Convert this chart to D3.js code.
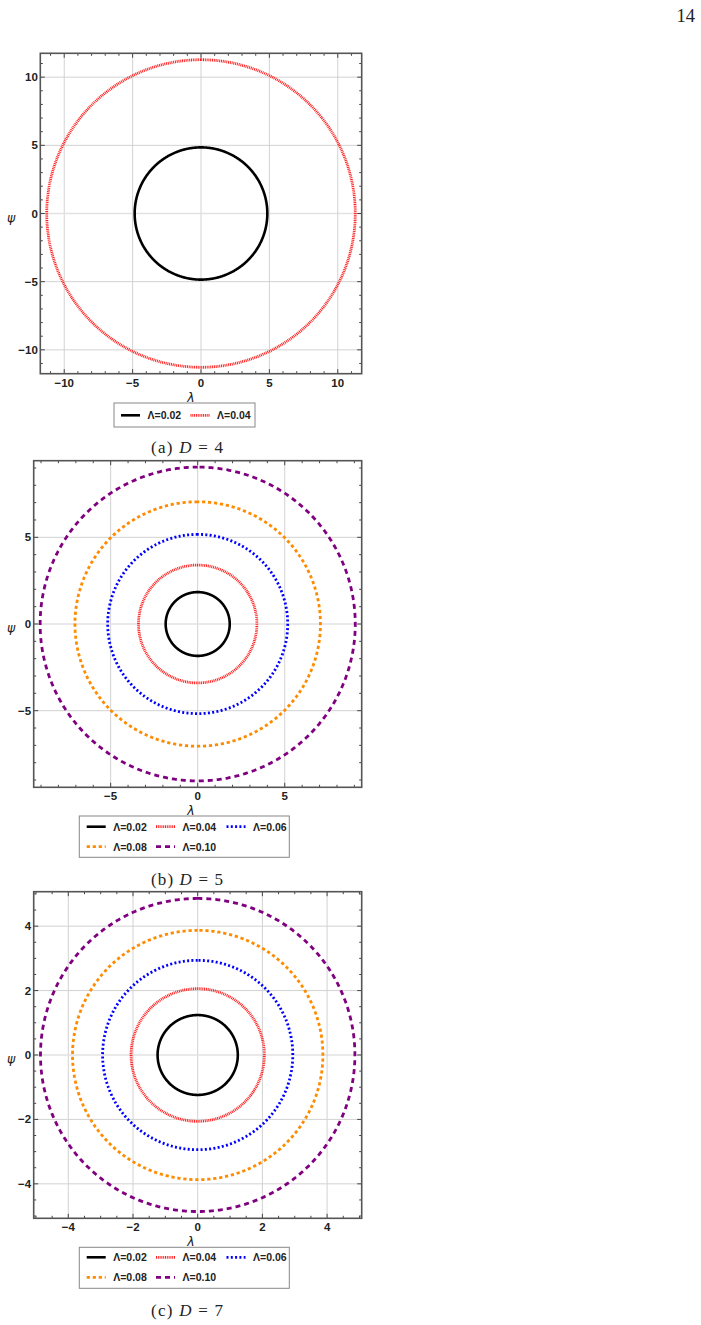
<!DOCTYPE html>
<html><head><meta charset="utf-8">
<script src="https://cdn.jsdelivr.net/npm/d3@7"></script>
<style>body{margin:0;background:#fff}svg{display:block}</style>
</head><body>
<svg id="c" width="701" height="1325"></svg>
<script>
// ---- data ----
const lambdaLabelsA = ["0.02", "0.04"];
const radiiA = [4.85, 11.28];
const ticksA = [-10, -5, 0, 5, 10];
const extentA = 11.75;

const lambdaLabelsB = ["0.02", "0.04", "0.06", "0.08", "0.10"];
const radiiB = [1.84, 3.40, 5.17, 7.05, 9.05];
const ticksB = [-5, 0, 5];
const extentB = 9.42;

const lambdaLabelsC = ["0.02", "0.04", "0.06", "0.08", "0.10"];
const radiiC = [1.24, 2.06, 2.94, 3.87, 4.86];
const ticksC = [-4, -2, 0, 2, 4];
const extentC = 5.07;

const captions = [["(a)", "D", "= 4"], ["(b)", "D", "= 5"], ["(c)", "D", "= 7"]];

// styles
const seriesStyle = [
  {color: "#000000", dash: null, w: 2.6},
  {color: "#ff2020", dash: "1,0.8", w: 2.8},
  {color: "#0000ff", dash: "2,2.3", w: 2.8},
  {color: "#ff8c00", dash: "3.2,2.8", w: 2.8},
  {color: "#800080", dash: "5,4", w: 2.8}
];

const svg = d3.select("#c");
svg.append("rect").attr("width", 701).attr("height", 1325).attr("fill", "#fff");

svg.append("text").attr("x", 695).attr("y", 22).attr("text-anchor", "end")
  .attr("font-family", "Liberation Serif, serif").attr("font-size", 18.5).attr("fill", "#222").text("14");

function panel(cfg) {
  const g = svg.append("g");
  const x = d3.scaleLinear().domain([-cfg.ext, cfg.ext]).range([cfg.x0, cfg.x1]);
  const y = d3.scaleLinear().domain([-cfg.ext, cfg.ext]).range([cfg.y1, cfg.y0]);
  // grid
  const grid = g.append("g");
  cfg.ticks.forEach(t => {
    grid.append("line").attr("x1", x(t)).attr("x2", x(t)).attr("y1", cfg.y0).attr("y2", cfg.y1)
      .attr("stroke", "#d2d2d2").attr("stroke-width", 1);
    grid.append("line").attr("y1", y(t)).attr("y2", y(t)).attr("x1", cfg.x0).attr("x2", cfg.x1)
      .attr("stroke", t === 0 ? "#e2e2e2" : "#d2d2d2").attr("stroke-width", t === 0 ? 1.6 : 1);
  });
  // curves
  const angles = d3.range(0, 721).map(i => i / 720 * 2 * Math.PI);
  cfg.radii.forEach((r, i) => {
    const st = seriesStyle[i];
    const line = d3.line().x(a => x(r * Math.cos(a + Math.PI / 2))).y(a => y(r * Math.sin(a + Math.PI / 2)));
    g.append("path").attr("d", line(angles)).attr("fill", "none")
      .attr("stroke", st.color).attr("stroke-width", st.w)
      .attr("stroke-dasharray", st.dash);
  });
  // frame ticks (all four sides)
  const minor = d3.range(Math.ceil(-cfg.ext / cfg.minor) * cfg.minor, cfg.ext + 1e-9, cfg.minor)
    .map(v => Math.round(v * 1000) / 1000);
  const tk = g.append("g").attr("stroke", "#444");
  minor.forEach(v => {
    const maj = cfg.ticks.some(t => Math.abs(t - v) < 1e-6);
    const L = maj ? 4.5 : 2.5;
    tk.append("line").attr("x1", x(v)).attr("x2", x(v)).attr("y1", cfg.y1).attr("y2", cfg.y1 - L).attr("stroke-width", 1);
    tk.append("line").attr("x1", x(v)).attr("x2", x(v)).attr("y1", cfg.y0).attr("y2", cfg.y0 + L).attr("stroke-width", 1);
    tk.append("line").attr("y1", y(v)).attr("y2", y(v)).attr("x1", cfg.x0).attr("x2", cfg.x0 + L).attr("stroke-width", 1);
    tk.append("line").attr("y1", y(v)).attr("y2", y(v)).attr("x1", cfg.x1).attr("x2", cfg.x1 - L).attr("stroke-width", 1);
  });
  g.append("rect").attr("x", cfg.x0).attr("y", cfg.y0).attr("width", cfg.x1 - cfg.x0).attr("height", cfg.y1 - cfg.y0)
    .attr("fill", "none").attr("stroke", "#555").attr("stroke-width", 1.6);
  // tick labels
  const fmt = v => v < 0 ? "\u2212" + Math.abs(v) : String(v);
  cfg.ticks.forEach(t => {
    g.append("text").attr("x", x(t)).attr("y", cfg.y1 + 13).attr("text-anchor", "middle")
      .attr("font-family", "Liberation Sans, Arial, sans-serif").attr("font-weight", "bold")
      .attr("font-size", 11.5).attr("fill", "#222").text(fmt(t));
    g.append("text").attr("x", cfg.x0 - 2.5).attr("y", y(t) + 4).attr("text-anchor", "end")
      .attr("font-family", "Liberation Sans, Arial, sans-serif").attr("font-weight", "bold")
      .attr("font-size", 11.5).attr("fill", "#222").text(fmt(t));
  });
  // axis labels
  g.append("text").attr("x", 191).attr("y", cfg.y1 + 28).attr("text-anchor", "middle")
    .attr("font-family", "DejaVu Sans, sans-serif").attr("font-style", "italic").attr("font-size", 12.5)
    .attr("fill", "#222").text("λ");
  g.append("text").attr("x", 11).attr("y", (cfg.y0 + cfg.y1) / 2 + 8).attr("text-anchor", "middle")
    .attr("font-family", "DejaVu Sans, sans-serif").attr("font-style", "italic").attr("font-size", 12.5)
    .attr("fill", "#222").text("ψ");
  // legend
  const lg = cfg.legend;
  g.append("rect").attr("x", lg.x).attr("y", lg.y).attr("width", lg.w).attr("height", lg.h)
    .attr("fill", "#fff").attr("stroke", "#888").attr("stroke-width", 1);
  cfg.labels.forEach((lab, i) => {
    const col = i % lg.cols, row = Math.floor(i / lg.cols);
    const sx = lg.colX[col], sy = lg.rowY[row];
    const st = seriesStyle[i];
    g.append("line").attr("x1", sx).attr("x2", sx + 19).attr("y1", sy).attr("y2", sy)
      .attr("stroke", st.color).attr("stroke-width", st.w).attr("stroke-dasharray", st.dash);
    g.append("text").attr("x", sx + 26.5).attr("y", sy + 3.8)
      .attr("font-family", "Liberation Sans, Arial, sans-serif").attr("font-weight", "bold")
      .attr("font-size", 10.5).attr("fill", "#222").text("Λ=" + lab);
  });
  // caption
  const cap = captions[cfg.idx];
  const t = g.append("text").attr("x", 187).attr("y", cfg.capY).attr("text-anchor", "middle")
    .attr("font-family", "Liberation Serif, serif").attr("font-size", 17).attr("fill", "#222")
    .attr("textLength", 72).attr("lengthAdjust", "spacing");
  t.append("tspan").text(cap[0] + " ");
  t.append("tspan").attr("font-style", "italic").text(cap[1]);
  t.append("tspan").text(" " + cap[2]);
}

panel({idx: 0, ext: extentA, ticks: ticksA, minor: 1, radii: radiiA, labels: lambdaLabelsA,
  x0: 40.3, x1: 361.7, y0: 53.3, y1: 373.7, capY: 452.5,
  legend: {x: 114, y: 403, w: 141, h: 24, cols: 2, colX: [121, 190.5], rowY: [415.3]}});
panel({idx: 1, ext: extentB, ticks: ticksB, minor: 1, radii: radiiB, labels: lambdaLabelsB,
  x0: 33.7, x1: 361.7, y0: 460.7, y1: 787.3, capY: 885,
  legend: {x: 79.3, y: 816, w: 210, h: 41.3, cols: 3, colX: [86.7, 156, 226.5], rowY: [826.7, 846.7]}});
panel({idx: 2, ext: extentC, ticks: ticksC, minor: 0.5, radii: radiiC, labels: lambdaLabelsC,
  x0: 33.7, x1: 361.7, y0: 891.7, y1: 1218.3, capY: 1316,
  legend: {x: 79.3, y: 1247.3, w: 210, h: 41, cols: 3, colX: [86.7, 156, 226.5], rowY: [1257.3, 1277.3]}});
</script>
</body></html>
